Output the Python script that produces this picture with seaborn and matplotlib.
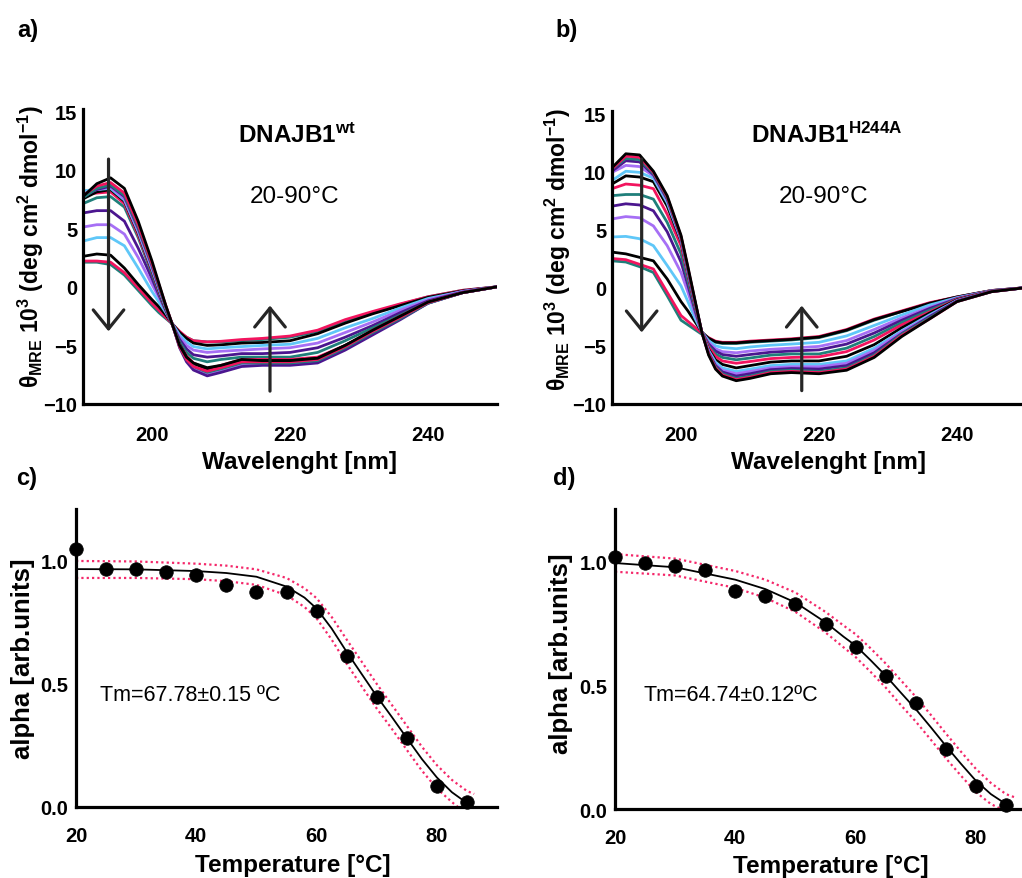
import matplotlib
matplotlib.use("Agg")
import matplotlib.pyplot as plt
import seaborn as sns
import pandas as pd

# ---------------- data ----------------
temps = [20, 25, 30, 35, 40, 45, 50, 55, 60, 65, 70, 75, 80, 85, 90]
wavelength = [190, 192, 194, 196, 198, 200, 201, 202, 203, 204, 205, 206, 208,
              210, 213, 216, 220, 224, 228, 232, 236, 240, 245, 250]

wt_20 = [7.7, 8.8, 9.3, 8.4, 5.6, 2.2, 0.3, -1.6, -3.3, -5.0, -6.0, -6.5, -6.9, -6.7, -6.2, -6.3, -6.3, -6.1, -5.0, -3.7, -2.5, -1.3, -0.5, 0.0]
wt_25 = [7.8, 8.6, 8.9, 8.0, 5.3, 2.0, 0.2, -1.6, -3.3, -5.1, -6.2, -6.8, -7.2, -6.9, -6.4, -6.4, -6.4, -6.2, -5.1, -3.8, -2.6, -1.35, -0.5, 0.0]
wt_30 = [7.6, 8.4, 8.7, 7.8, 5.1, 1.9, 0.1, -1.7, -3.3, -5.1, -6.2, -6.8, -7.3, -7.0, -6.5, -6.5, -6.5, -6.3, -5.2, -3.9, -2.7, -1.4, -0.5, 0.0]
wt_35 = [7.7, 8.3, 8.6, 7.7, 5.0, 1.8, 0.0, -1.7, -3.3, -5.2, -6.4, -7.1, -7.6, -7.3, -6.8, -6.7, -6.7, -6.5, -5.4, -4.1, -2.8, -1.4, -0.5, 0.0]
wt_40 = [7.9, 8.3, 8.5, 7.5, 4.8, 1.6, -0.1, -1.8, -3.3, -5.1, -6.2, -6.9, -7.4, -7.1, -6.6, -6.6, -6.6, -6.4, -5.3, -4.0, -2.7, -1.4, -0.5, 0.0]
wt_45 = [8.2, 8.3, 8.4, 7.4, 4.7, 1.5, -0.2, -1.8, -3.3, -5.0, -6.1, -6.8, -7.3, -7.0, -6.5, -6.5, -6.5, -6.3, -5.2, -3.9, -2.7, -1.4, -0.5, 0.0]
wt_50 = [7.5, 8.1, 8.3, 7.3, 4.6, 1.4, -0.3, -1.9, -3.3, -4.9, -6.0, -6.6, -7.0, -6.8, -6.3, -6.3, -6.3, -6.1, -5.0, -3.8, -2.6, -1.35, -0.5, 0.0]
wt_55 = [7.9, 8.0, 8.1, 7.1, 4.4, 1.3, -0.4, -1.9, -3.3, -4.9, -5.9, -6.5, -7.0, -6.7, -6.2, -6.2, -6.2, -6.0, -5.0, -3.7, -2.5, -1.3, -0.5, 0.0]
wt_60 = [7.1, 7.6, 7.7, 6.8, 4.2, 1.1, -0.5, -2.0, -3.3, -4.7, -5.6, -6.1, -6.4, -6.2, -6.0, -6.0, -6.0, -5.6, -4.6, -3.5, -2.4, -1.3, -0.5, 0.0]
wt_65 = [6.3, 6.5, 6.5, 5.6, 3.3, 0.7, -0.7, -2.0, -3.3, -4.5, -5.3, -5.8, -6.0, -5.9, -5.7, -5.7, -5.6, -5.2, -4.3, -3.3, -2.2, -1.2, -0.45, 0.0]
wt_70 = [5.1, 5.3, 5.3, 4.5, 2.5, 0.2, -0.9, -2.1, -3.3, -4.3, -5.0, -5.4, -5.6, -5.5, -5.4, -5.3, -5.2, -4.8, -3.9, -3.0, -2.0, -1.1, -0.4, 0.0]
wt_75 = [3.9, 4.2, 4.2, 3.5, 1.6, -0.4, -1.3, -2.2, -3.2, -4.1, -4.7, -5.1, -5.3, -5.2, -5.1, -5.0, -4.9, -4.4, -3.5, -2.7, -1.8, -1.0, -0.4, 0.0]
wt_80 = [2.6, 2.8, 2.7, 1.6, 0.2, -1.1, -1.7, -2.4, -3.2, -3.9, -4.4, -4.8, -5.0, -4.95, -4.8, -4.75, -4.6, -4.0, -3.1, -2.3, -1.6, -0.9, -0.35, 0.0]
wt_85 = [2.2, 2.2, 2.1, 1.2, -0.1, -1.4, -2.0, -2.6, -3.2, -3.8, -4.3, -4.6, -4.7, -4.65, -4.5, -4.4, -4.2, -3.7, -2.8, -2.1, -1.45, -0.85, -0.3, 0.0]
wt_90 = [2.1, 2.1, 1.9, 1.0, -0.3, -1.6, -2.2, -2.7, -3.2, -3.9, -4.3, -4.6, -4.7, -4.7, -4.6, -4.5, -4.3, -3.8, -2.9, -2.2, -1.5, -0.85, -0.3, 0.0]

mut_20 = [10.3, 11.5, 11.4, 10.0, 7.9, 4.5, 1.8, -1.0, -3.8, -5.8, -7.0, -7.6, -8.0, -7.8, -7.4, -7.3, -7.4, -7.1, -6.0, -4.2, -2.7, -1.2, -0.35, 0.0]
mut_25 = [10.2, 11.3, 11.2, 9.9, 7.8, 4.4, 1.7, -1.1, -3.8, -5.7, -6.9, -7.5, -7.9, -7.7, -7.3, -7.2, -7.3, -7.0, -5.9, -4.1, -2.7, -1.2, -0.35, 0.0]
mut_30 = [10.2, 11.1, 11.0, 9.8, 7.7, 4.35, 1.6, -1.1, -3.8, -5.7, -6.8, -7.4, -7.8, -7.6, -7.2, -7.1, -7.2, -6.9, -5.8, -4.0, -2.6, -1.2, -0.35, 0.0]
mut_35 = [10.0, 10.9, 10.8, 9.7, 7.6, 4.3, 1.5, -1.2, -3.8, -5.6, -6.7, -7.25, -7.6, -7.4, -7.05, -6.95, -7.0, -6.7, -5.6, -3.95, -2.5, -1.15, -0.34, 0.0]
mut_40 = [9.9, 10.5, 10.4, 9.6, 7.5, 4.2, 1.4, -1.2, -3.8, -5.5, -6.6, -7.1, -7.4, -7.2, -6.9, -6.8, -6.8, -6.5, -5.4, -3.8, -2.45, -1.13, -0.33, 0.0]
mut_45 = [9.2, 10.0, 9.9, 9.4, 7.3, 4.1, 1.3, -1.3, -3.8, -5.4, -6.4, -6.9, -7.2, -7.0, -6.7, -6.6, -6.6, -6.3, -5.2, -3.7, -2.35, -1.1, -0.33, 0.0]
mut_50 = [8.9, 9.6, 9.5, 9.1, 7.0, 4.0, 1.2, -1.4, -3.8, -5.3, -6.2, -6.6, -6.9, -6.7, -6.4, -6.3, -6.3, -5.9, -4.9, -3.45, -2.2, -1.05, -0.32, 0.0]
mut_55 = [8.5, 8.9, 8.8, 8.5, 6.3, 3.6, 1.0, -1.5, -3.8, -5.1, -5.9, -6.3, -6.5, -6.35, -6.1, -6.0, -5.95, -5.5, -4.5, -3.2, -2.1, -1.0, -0.3, 0.0]
mut_60 = [7.9, 8.0, 8.0, 7.6, 5.6, 2.9, 0.6, -1.7, -3.8, -5.0, -5.7, -6.0, -6.2, -6.05, -5.8, -5.7, -5.7, -5.2, -4.2, -3.0, -1.95, -0.98, -0.3, 0.0]
mut_65 = [7.0, 7.2, 7.1, 6.6, 4.8, 2.2, 0.2, -1.9, -3.8, -4.85, -5.45, -5.75, -5.9, -5.75, -5.55, -5.45, -5.35, -4.85, -3.9, -2.8, -1.8, -0.95, -0.29, 0.0]
mut_70 = [5.9, 6.1, 6.0, 5.3, 3.6, 1.3, -0.4, -2.2, -3.8, -4.7, -5.25, -5.5, -5.6, -5.45, -5.3, -5.2, -5.05, -4.55, -3.6, -2.6, -1.7, -0.9, -0.28, 0.0]
mut_75 = [4.35, 4.4, 4.2, 3.6, 1.9, 0.15, -1.2, -2.6, -3.8, -4.55, -5.0, -5.15, -5.25, -5.1, -4.95, -4.85, -4.7, -4.15, -3.25, -2.35, -1.5, -0.86, -0.27, 0.0]
mut_80 = [3.05, 2.9, 2.6, 2.3, 0.74, -1.2, -2.0, -2.9, -3.8, -4.35, -4.65, -4.75, -4.75, -4.65, -4.55, -4.45, -4.25, -3.65, -2.75, -2.05, -1.35, -0.8, -0.25, 0.0]
mut_85 = [2.5, 2.4, 2.0, 1.6, -0.4, -2.4, -2.9, -3.4, -3.9, -4.3, -4.6, -4.7, -4.7, -4.6, -4.5, -4.4, -4.2, -3.6, -2.7, -2.0, -1.3, -0.8, -0.25, 0.0]
mut_90 = [2.3, 2.2, 1.8, 1.3, -0.7, -2.8, -3.2, -3.6, -4.0, -4.4, -4.7, -4.8, -4.8, -4.7, -4.6, -4.5, -4.3, -3.7, -2.8, -2.05, -1.35, -0.82, -0.26, 0.0]

wt_spectra = [wt_20, wt_25, wt_30, wt_35, wt_40, wt_45, wt_50, wt_55,
              wt_60, wt_65, wt_70, wt_75, wt_80, wt_85, wt_90]
mut_spectra = [mut_20, mut_25, mut_30, mut_35, mut_40, mut_45, mut_50, mut_55,
               mut_60, mut_65, mut_70, mut_75, mut_80, mut_85, mut_90]

# melting data
melt_T = [20, 25, 30, 35, 40, 45, 50, 55, 60, 65, 70, 75, 80, 85]
wt_alpha = [1.046, 0.965, 0.965, 0.954, 0.940, 0.902, 0.875, 0.873, 0.794, 0.615, 0.445, 0.282, 0.087, 0.019]
mut_alpha = [1.015, 0.991, 0.981, 0.964, 0.880, 0.858, 0.827, 0.746, 0.652, 0.538, 0.427, 0.242, 0.092, 0.017]

fit_T = [20, 30, 40, 45, 50, 55, 58, 60, 62.5, 65, 67.5, 70, 72.5, 75, 77.5, 80, 82.5, 85]
wt_fit = [0.966, 0.965, 0.958, 0.950, 0.935, 0.895, 0.850, 0.806, 0.725, 0.630, 0.540, 0.450, 0.366, 0.280, 0.195, 0.120, 0.060, 0.016]
wt_fit_end = (85.7, 0.003)
wt_up_T = [20, 30, 40, 45, 50, 55, 58, 60, 62.5, 65, 67.5, 70, 72.5, 75, 77.5, 80, 82.5, 85, 86.2]
wt_up = [0.999, 0.997, 0.988, 0.980, 0.965, 0.930, 0.888, 0.848, 0.772, 0.680, 0.590, 0.500, 0.415, 0.330, 0.245, 0.170, 0.110, 0.065, 0.053]
wt_lo_T = [20, 30, 40, 45, 50, 55, 58, 60, 62.5, 65, 67.5, 70, 72.5, 75, 77.5, 80, 82.5, 83.5]
wt_lo = [0.930, 0.930, 0.925, 0.917, 0.902, 0.860, 0.812, 0.766, 0.680, 0.582, 0.490, 0.400, 0.318, 0.232, 0.148, 0.075, 0.020, 0.000]

mut_fit = [0.992, 0.975, 0.925, 0.887, 0.833, 0.753, 0.695, 0.659, 0.600, 0.538, 0.470, 0.403, 0.330, 0.255, 0.183, 0.114, 0.060, 0.020]
mut_fit_end = (85.8, 0.008)
mut_up_T = [20, 30, 40, 45, 50, 55, 58, 60, 62.5, 65, 67.5, 70, 72.5, 75, 77.5, 80, 82.5, 85, 86.7]
mut_up = [1.028, 1.010, 0.960, 0.925, 0.873, 0.795, 0.740, 0.705, 0.648, 0.587, 0.520, 0.453, 0.380, 0.305, 0.232, 0.162, 0.105, 0.060, 0.045]
mut_lo_T = [20, 30, 40, 45, 50, 55, 58, 60, 62.5, 65, 67.5, 70, 72.5, 75, 77.5, 80, 82.5, 84.2]
mut_lo = [0.957, 0.942, 0.892, 0.852, 0.795, 0.712, 0.652, 0.613, 0.553, 0.490, 0.420, 0.353, 0.280, 0.205, 0.135, 0.068, 0.020, 0.000]

spec_xticks = [200, 220, 240]
spec_yticks = [-10, -5, 0, 5, 10, 15]
melt_xticks = [20, 40, 60, 80]
melt_yticks = [0.0, 0.5, 1.0]
melt_yticklabels = ["0.0", "0.5", "1.0"]

# ---------------- style ----------------
sns.set_style("white")
plt.rcParams['font.family'] = ['Liberation Sans', 'DejaVu Sans']
plt.rcParams['mathtext.fontset'] = 'custom'
plt.rcParams['mathtext.rm'] = 'Liberation Sans'
plt.rcParams['mathtext.bf'] = 'Liberation Sans:bold'
plt.rcParams['mathtext.it'] = 'Liberation Sans:italic'
for key in ['text.color', 'axes.labelcolor', 'xtick.color', 'ytick.color']:
    plt.rcParams[key] = 'black'

cycle_colors = ['#000000', '#f2145e', '#1f7f7a', '#4b168f', '#a66ff5', '#5fc7f8']
palette = {t: cycle_colors[i % 6] for i, t in enumerate(temps)}

W, H = 1022, 879
fig = plt.figure(figsize=(W / 100, H / 100), dpi=100)

def px_axes(left, bottom, width, height):
    return fig.add_axes([left / W, 1 - bottom / H, width / W, height / H])

ax_a = px_axes(83, 405, 414, 295.3)
ax_b = px_axes(612, 405, 414, 293.3)
ax_c = px_axes(76, 808, 421, 298)
ax_d = px_axes(615, 810, 421, 300)

TICK_FS = 14.5
LAB_FS = 17.5
SPINE_LW = 2.3

def style_axes(ax):
    sns.despine(ax=ax)
    for s in ['left', 'bottom']:
        ax.spines[s].set_linewidth(SPINE_LW)
        ax.spines[s].set_color('black')
    ax.tick_params(axis='both', length=0, labelsize=TICK_FS, labelcolor='black')
    ax.tick_params(axis='x', pad=15)
    ax.tick_params(axis='y', pad=4)
    for lab in ax.get_xticklabels() + ax.get_yticklabels():
        lab.set_fontweight('bold')

def spectra(ax, spectra_list, down_x, up_x, top_val, tip_val):
    rows = []
    for t, vals in zip(temps, spectra_list):
        for w, v in zip(wavelength, vals):
            rows.append({'wavelength': w, 'theta': v, 'temp': t})
    df = pd.DataFrame(rows)
    sns.lineplot(data=df, x='wavelength', y='theta', hue='temp',
                 hue_order=temps[::-1], palette=palette, estimator=None,
                 sort=False, linewidth=2.0, legend=False, ax=ax)
    ax.set_xlim(190, 250)
    ax.set_ylim(-10, 15.2)
    ax.set_xticks(spec_xticks)
    ax.set_yticks(spec_yticks)
    ap = dict(arrowstyle="->,head_length=0.68,head_width=0.55", lw=2.3,
              color='#262626', shrinkA=0, shrinkB=0, mutation_scale=20)
    ax.annotate("", xy=(down_x, tip_val[0]), xytext=(down_x, top_val[0]), arrowprops=ap)
    ax.annotate("", xy=(up_x, tip_val[1]), xytext=(up_x, top_val[1]), arrowprops=ap)
    ax.set_xlabel("Wavelenght [nm]", fontsize=LAB_FS, fontweight='bold')
    ax.set_ylabel(r"$\mathbf{θ_{MRE}\ 10^{3}\ (deg\ cm^{2}\ dmol^{-1})}$", fontsize=16.5)
    ax.xaxis.set_label_coords(0.522, -0.157)
    style_axes(ax)

spectra(ax_a, wt_spectra, 193.7, 217.1, (10.9, -8.9), (-3.8, -1.6))
spectra(ax_b, mut_spectra, 194.3, 217.5, (11.05, -8.85), (-3.85, -1.55))
ax_a.yaxis.set_label_coords(-0.09, 0.536)
ax_b.yaxis.set_label_coords(-0.095, 0.53)

ax_a.text(212.5, 12.37, r"$\mathbf{DNAJB1^{wt}}$", fontsize=17.5, ha='left', va='baseline')
ax_b.text(210.1, 12.5, r"$\mathbf{DNAJB1^{H244A}}$", fontsize=17.5, ha='left', va='baseline')
ax_a.text(220.6, 7.25, "20-90°C", fontsize=17.5, ha='center', va='baseline')
ax_b.text(220.6, 7.35, "20-90°C", fontsize=17.5, ha='center', va='baseline')

PINK = '#f4286a'

def melt(ax, alpha, fit, fit_end, up_T, up, lo_T, lo, label, tx, ty):
    sns.lineplot(x=up_T, y=up, color=PINK, linewidth=1.6, linestyle=(0, (1, 1.4)), ax=ax)
    sns.lineplot(x=lo_T, y=lo, color=PINK, linewidth=1.6, linestyle=(0, (1, 1.4)), ax=ax)
    sns.lineplot(x=fit_T + [fit_end[0]], y=fit + [fit_end[1]], color='black',
                 linewidth=1.3, ax=ax)
    sns.scatterplot(x=melt_T, y=alpha, s=95, color='black', edgecolor='black',
                    linewidth=0.5, ax=ax, clip_on=False, zorder=6)
    ax.set_xlim(20, 90)
    ax.set_ylim(0, 1.21)
    ax.set_xticks(melt_xticks)
    ax.set_yticks(melt_yticks)
    ax.set_yticklabels(melt_yticklabels)
    ax.set_xlabel("Temperature [°C]", fontsize=LAB_FS, fontweight='bold')
    ax.set_ylabel("alpha [arb.units]", fontsize=18.5, fontweight='bold')
    ax.text(tx, ty, label, fontsize=15.5, ha='left', va='baseline')
    style_axes(ax)
    ax.tick_params(axis='x', pad=14)
    ax.tick_params(axis='y', pad=5.5)

melt(ax_c, wt_alpha, wt_fit, wt_fit_end, wt_up_T, wt_up, wt_lo_T, wt_lo,
     "Tm=67.78±0.15 ºC", 24.0, 0.436)
melt(ax_d, mut_alpha, mut_fit, mut_fit_end, mut_up_T, mut_up, mut_lo_T, mut_lo,
     "Tm=64.74±0.12ºC", 24.7, 0.44)
ax_c.xaxis.set_label_coords(0.514, -0.153)
ax_d.xaxis.set_label_coords(0.513, -0.15)
ax_c.yaxis.set_label_coords(-0.097, 0.5)
ax_d.yaxis.set_label_coords(-0.10, 0.52)

for txt, x, y in [("a)", 17, 30), ("b)", 555, 30), ("c)", 16, 479), ("d)", 553, 479)]:
    fig.text(x / W, 1 - y / H, txt, fontsize=17, fontweight='bold',
             family=['Liberation Sans Narrow', 'Liberation Sans'], ha='left', va='center')

fig.savefig("out.png", dpi=100)
